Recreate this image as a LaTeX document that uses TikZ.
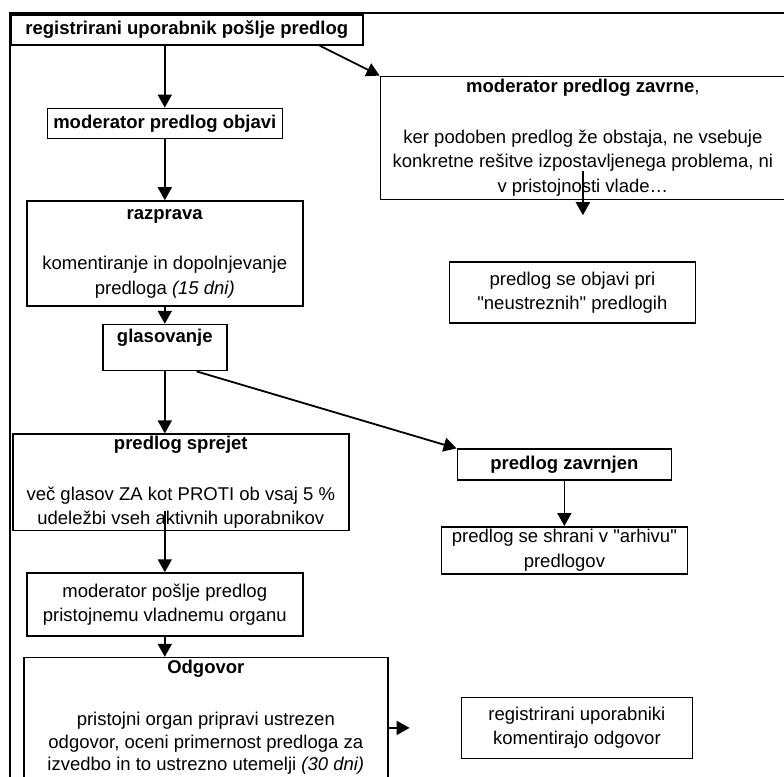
\documentclass[tikz,border=0pt]{standalone}
\usepackage{fontspec}
\setmainfont{Liberation Sans}[Ligatures=TeXOff]
\usetikzlibrary{arrows.meta,positioning}

\begin{document}
\begin{tikzpicture}[
x=1pt,
y=-1pt,
procbox/.style={
draw,
line width=1.6pt,
align=center,
inner sep=2pt,
font=\fontsize{18.5}{24.5}\selectfont
},
flow/.style={
-{Triangle[length=13pt,width=14pt]},
line width=1.8pt
},
canvasframe/.style={
line width=1.6pt
}
]
\useasboundingbox (0,0) rectangle (784,776);

\draw[canvasframe] (10,13) rectangle (800,800);

\node[procbox, anchor=north west, minimum width=352pt, minimum height=30pt] (register) at (10,14) {\textbf{registrirani uporabnik pošlje predlog}};
\node[procbox, below=62pt of register, xshift=-22pt, minimum width=235pt, minimum height=30pt] (objavi) {\textbf{moderator predlog objavi}};
\node[procbox, below=61pt of objavi, minimum width=276pt, minimum height=105pt] (razprava) {\textbf{razprava}\\[26pt] komentiranje in dopolnjevanje\\ predloga \textit{(15 dni)}};
\node[procbox, below=17pt of razprava, minimum width=124pt, minimum height=46pt] (glasovanje) {\textbf{glasovanje}\\ \mbox{}};
\node[procbox, below=62pt of glasovanje, xshift=16pt, minimum width=336pt, minimum height=96pt] (sprejet) {\textbf{predlog sprejet}\\[26pt] več glasov ZA kot PROTI ob vsaj 5 \%\\ udeležbi vseh aktivnih uporabnikov};
\node[procbox, below=41pt of sprejet, xshift=-16pt, minimum width=276pt, minimum height=63pt] (posilje) {moderator pošlje predlog\\ pristojnemu vladnemu organu};
\node[procbox, below=20pt of posilje, xshift=41pt, minimum width=364pt, font=\fontsize{18.5}{22.5}\selectfont] (odgovor) {\textbf{Odgovor}\\[30pt] pristojni organ pripravi ustrezen\\ odgovor, oceni primernost predloga za\\ izvedbo in to ustrezno utemelji \textit{(30 dni)}\\[30pt] \mbox{}};

\node[procbox, below right=30pt and 16pt of register, minimum width=405pt, minimum height=123pt] (zavrne) {\textbf{moderator predlog zavrne},\\[26pt] ker podoben predlog že obstaja, ne vsebuje\\ konkretne rešitve izpostavljenega problema, ni\\ v pristojnosti vlade…};
\node[procbox, below=61pt of zavrne, xshift=-10.5pt, minimum width=246pt, minimum height=61pt] (objavipri) {predlog se objavi pri\\ "neustreznih" predlogih};
\node[procbox, below right=77pt and 229pt of glasovanje, minimum width=214pt, minimum height=31pt] (zavrnjen) {\textbf{predlog zavrnjen}};
\node[procbox, below=45pt of zavrnjen, minimum width=246pt, minimum height=47pt] (arhiv) {predlog se shrani v "arhivu"\\ predlogov};
\node[procbox, below=122pt of arhiv, xshift=12.5pt, minimum width=231pt, minimum height=61pt] (komentar) {registrirani uporabniki\\ komentirajo odgovor};

\draw[flow] (register.south -| objavi.north) -- (objavi.north);
\draw[flow] ([xshift=-44pt]register.south east) -- (zavrne.north west);
\draw[flow] (objavi.south) -- (razprava.north);
\draw[flow] (razprava.south) -- (glasovanje.north);
\draw[flow] (glasovanje.south) -- (glasovanje.south |- sprejet.north);
\draw[flow] ([xshift=-31pt]glasovanje.south east) -- (zavrnjen.north west);
\draw[flow] ([yshift=20pt]sprejet.south -| posilje.north) -- (posilje.north);
\draw[flow] (posilje.south) -- (posilje.south |- odgovor.north);
\draw[flow] (odgovor.east |- komentar.west) -- ([xshift=-51pt]komentar.west);
\draw[flow] ([yshift=29pt]zavrne.south) -- ([yshift=-15pt]zavrne.south);
\draw[flow] (zavrnjen.south) -- (arhiv.north);

\end{tikzpicture}
\end{document}
